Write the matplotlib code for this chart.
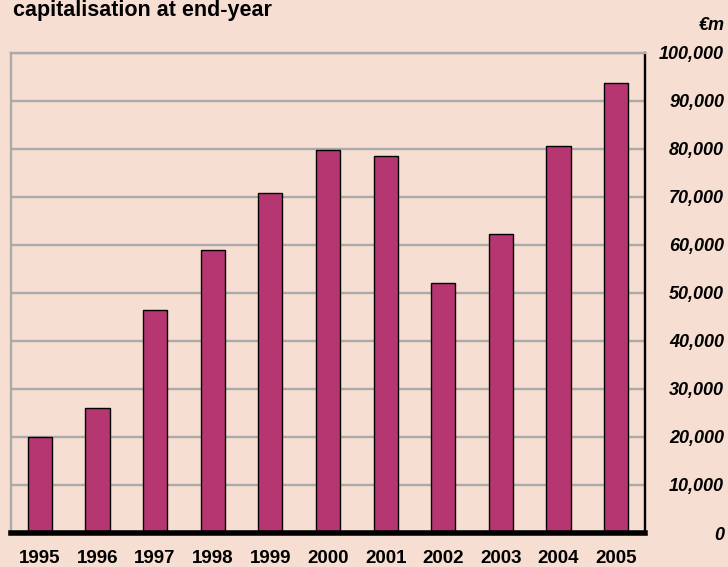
import matplotlib.pyplot as plt
import numpy as np

years = ["1995", "1996", "1997", "1998", "1999", "2000",
         "2001", "2002", "2003", "2004", "2005"]
cap_m = [20000, 26000, 46500, 58900, 70800, 79700,
         78600, 52100, 62300, 80700, 93800]
yticks = [0, 10000, 20000, 30000, 40000, 50000,
          60000, 70000, 80000, 90000, 100000]

bg = "#f7ded2"
bar_col = "#b53670"
grid_col = "#aaaaaa"

plt.rcParams['font.family'] = ['Liberation Sans', 'DejaVu Sans']

fig = plt.figure(figsize=(7.28, 5.67), dpi=100, facecolor=bg)
ax = fig.add_axes([11/728, 34/567, 634/728, 480/567])
ax.set_facecolor(bg)

x = np.arange(len(years))
ax.bar(x, cap_m, width=0.42, color=bar_col, edgecolor="black",
       linewidth=1.0, zorder=3)

ax.set_xlim(-0.5, 10.5)
ax.set_ylim(0, 100000)

# gridlines
for v in yticks[1:]:
    ax.axhline(v, color=grid_col, lw=1.7, zorder=1)

ax.spines['left'].set_color(grid_col)
ax.spines['left'].set_linewidth(1.7)
ax.spines['top'].set_color(grid_col)
ax.spines['top'].set_linewidth(1.7)
ax.spines['right'].set_color("black")
ax.spines['right'].set_linewidth(1.7)
ax.spines['bottom'].set_color("black")
ax.spines['bottom'].set_linewidth(4)
ax.spines['bottom'].set_zorder(5)

ax.set_xticks(x, years)
ax.tick_params(axis='x', length=0, pad=12, labelsize=13.5)
for lab in ax.get_xticklabels():
    lab.set_fontweight('bold')

ax.yaxis.tick_right()
ax.set_yticks(yticks, [f"{v:,}" for v in yticks])
ax.tick_params(axis='y', length=0, pad=57, labelsize=13)
for lab in ax.get_yticklabels():
    lab.set_fontweight('bold')
    lab.set_fontstyle('italic')
    lab.set_horizontalalignment('right')

fig.text(13/728, 1 - 16/567, "capitalisation at end-year", fontsize=15.5,
         fontweight='bold', va='baseline', ha='left')
fig.text(725/728, 1 - 30/567, "€m", fontsize=13, fontweight='bold',
         fontstyle='italic', va='baseline', ha='right')

fig.savefig("out.png", dpi=100, facecolor=bg)
